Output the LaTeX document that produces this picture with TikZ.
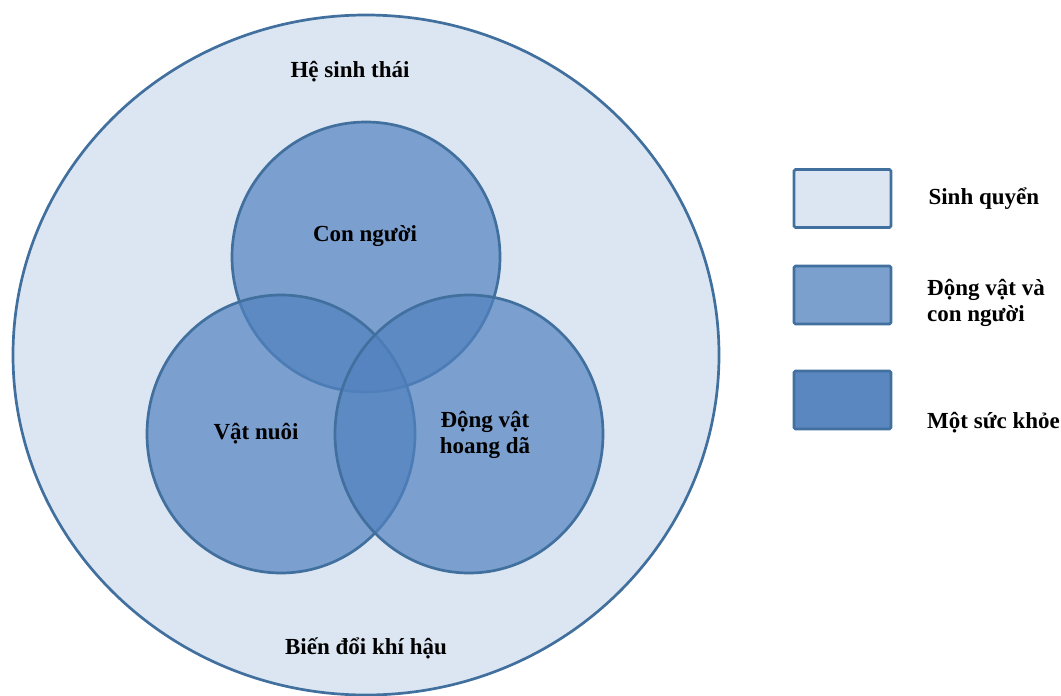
\documentclass[tikz,border=0pt]{standalone}
\usepackage{fontspec}
\setmainfont{Liberation Serif}
\usetikzlibrary{positioning}
\definecolor{bioFill}{HTML}{DCE6F2}
\definecolor{vennLine}{HTML}{41709F}
\definecolor{vennFill}{HTML}{5282BF}
\definecolor{animalFill}{HTML}{7CA0CD}
\definecolor{healthFill}{HTML}{5B87C1}
\tikzset{
  zone/.style={draw=vennLine, line width=2.7pt},
  venn/.style={zone, fill=vennFill, fill opacity=0.7},
  lbl/.style={font=\fontsize{23}{26}\selectfont\bfseries, align=center, inner sep=0pt},
  keybox/.style={draw=vennLine, line width=2.7pt, rounded corners=1.5pt,
    minimum width=97pt, minimum height=58pt, inner sep=0pt},
  keytext/.style={lbl, align=left, anchor=west}
}
\begin{document}
\begin{tikzpicture}[x=1pt,y=-1pt]
  \useasboundingbox (0,0) rectangle (1061,696);
  % ecosystem
  \draw[zone, fill=bioFill] (366,355) ellipse [x radius=353, y radius=340];
  % the three circles
  \draw[venn] (366,257) ellipse [x radius=134, y radius=135];
  \draw[venn] (281,434) ellipse [x radius=134, y radius=139];
  \draw[venn] (469,434) ellipse [x radius=134, y radius=139];
  \node[lbl] (eco) at (350,72) {Hệ sinh thái};
  \node[lbl] (climate) at (366,648) {Biến đổi khí hậu};
  \node[lbl] (human) at (365,236) {Con người};
  \node[lbl] (livestock) at (256,434) {Vật nuôi};
  \node[lbl] (wild) at (485,435) {Động vật\\hoang dã};
  % legend
  \node[keybox, fill=bioFill] (kbio) at (842.5,198.5) {};
  \node[keybox, fill=animalFill] (kanimal) at (842.5,295) {};
  \node[keybox, fill=healthFill] (khealth) at (842.5,400) {};
  \node[keytext, right=36pt of kbio] (tbio) {Sinh quyển};
  \node[keytext] (tanimal) at (927,303) {Động vật và\\con người};
  \node[keytext] (thealth) at (927,423) {Một sức khỏe};
\end{tikzpicture}
\end{document}
